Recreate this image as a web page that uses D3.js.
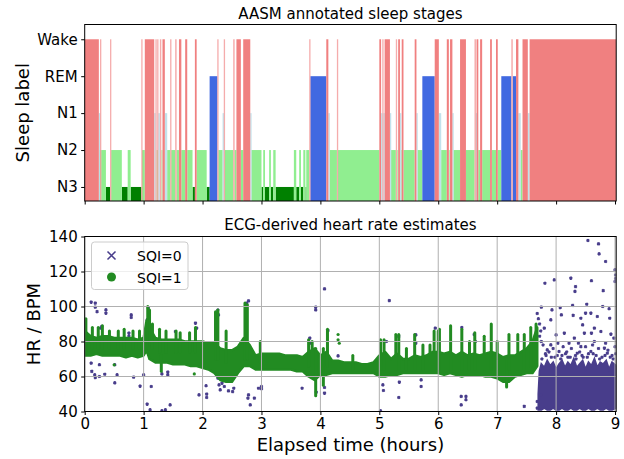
<!DOCTYPE html>
<html lang="en">
<head>
<meta charset="utf-8">
<title>sleep stages and heart rate</title>
<script src="https://cdn.jsdelivr.net/npm/d3@7"></script>
<style>
body{margin:0;background:#fff}
text{font-family:"DejaVu Sans",sans-serif}
</style>
</head>
<body>
<div id="chart"></div>
<script>

// hypnogram, run starts in hours and the stage of each run
var stageOrder = ["N3","N2","N1","REM","Wake"]
var stageStart = [0,0.24,0.25,0.26,0.28,0.36,0.43,0.45,0.63,0.73,
	0.78,0.96,0.975,1.02,1.18,1.20,1.22,1.23,1.25,1.276,
	1.30,1.32,1.36,1.40,1.45,1.47,1.535,1.56,1.60,1.64,
	1.705,1.74,1.83,1.87,1.90,2.07,2.12,2.25,2.27,2.34,
	2.36,2.38,2.52,2.545,2.575,2.65,2.69,2.81,2.83,3.00,
	3.03,3.06,3.13,3.16,3.20,3.24,3.55,3.59,3.64,3.67,
	3.71,3.745,3.76,3.81,3.83,4.10,4.135,4.16,4.28,4.30,
	5.00,5.03,5.05,5.07,5.09,5.18,5.20,5.28,5.30,5.32,
	5.35,5.37,5.38,5.41,5.60,5.63,5.65,5.73,5.94,6.01,
	6.05,6.145,6.18,6.20,6.24,6.26,6.37,6.47,6.615,6.64,
	6.65,6.68,6.71,6.745,6.88,6.91,6.98,7.01,7.07,7.24,
	7.265,7.32,7.36,7.40,7.43,7.52,7.55]
var stageName = ["Wake","N1","N2","Wake","N2","N3","Wake","N2","N3","N2",
	"N3","Wake","N2","Wake","N1","Wake","N2","Wake","N1","Wake",
	"N2","Wake","N1","N2","Wake","N2","Wake","N2","Wake","N2",
	"Wake","N2","N3","Wake","N2","N3","REM","Wake","N2","N1",
	"Wake","N2","Wake","N2","Wake","N2","Wake","N1","N2","N3",
	"N2","N3","N2","N3","N2","N3","N2","N3","N2","N3",
	"N2","N3","N2","Wake","REM","Wake","N1","N2","Wake","N2",
	"Wake","N1","Wake","N1","Wake","N1","N2","Wake","N2","Wake",
	"N1","N2","Wake","N2","Wake","N1","N2","REM","Wake","N1",
	"N2","Wake","N2","Wake","N1","N2","Wake","N2","Wake","N1",
	"Wake","N2","Wake","N2","Wake","N2","Wake","N2","REM","Wake",
	"REM","Wake","N1","N2","Wake","N1","Wake"]
var recordEnd = 9.02

// SQI=1 heart rate: dense band (low / high edge) plus narrow spikes
var bandTime = [0,0.1,0.2,0.3,0.4,0.5,0.6,0.7,0.8,0.9,1.0,1.05,1.1,
	1.2,1.3,1.4,1.5,1.6,1.7,1.8,1.9,2.0,2.1,2.2,2.3,2.4,2.5,2.6,2.7,2.8,2.9,
	3.0,3.1,3.2,3.3,3.4,3.5,3.6,3.7,3.8,3.9,4.0,4.1,4.2,4.3,4.4,4.5,4.6,4.7,4.8,4.9,
	5.0,5.1,5.2,5.3,5.4,5.5,5.6,5.7,5.8,5.9,6.0,6.1,6.2,6.3,6.4,6.5,6.6,6.7,6.8,6.9,
	7.0,7.1,7.2,7.3,7.4,7.5,7.6,7.68]
var bandLo = [72,72,73,72,72,72,72,71,72,71,72,75,70,
	68,68,68,67,67,67,66,66,65,64,62,58,57,57,62,66,66,64,
	64,64,64,64,64,64,63,63,60,58,61,61,62,62,62,62,62,62,62,62,
	60,60,61,61,62,62,62,62,62,62,62,61,62,61,60,61,61,61,60,60,
	59,57,57,60,61,62,62,66]
var bandHi = [86,83,82,83,83,82,82,82,82,81,82,92,88,
	82,81,81,81,81,80,80,80,80,79,79,76,75,75,77,82,78,72,
	73,73,73,73,72,72,72,71,74,76,72,74,69,69,68,68,68,67,67,68,
	72,74,70,73,70,70,72,71,72,74,74,73,74,72,74,72,73,72,73,74,
	73,71,72,72,74,76,80,88]
var spikeTime = [0.02,0.13,0.23,0.30,0.42,0.57,0.67,0.82,0.93,1.07,1.10,1.15,1.27,1.30,
	1.38,1.55,1.62,1.78,1.88,2.22,2.26,2.40,2.72,2.76,2.98,3.80,3.86,3.92,
	4.05,4.12,4.55,5.02,5.08,5.28,5.33,5.46,5.60,5.74,5.86,5.93,6.00,6.02,
	6.21,6.40,6.53,6.62,6.78,6.90,7.00,7.16,7.20,7.35,7.46,7.57,7.66]
var spikeLo = [75,76,76,76,76,76,76,76,76,80,78,76,74,63,
	74,74,74,74,74,70,70,68,70,70,68,66,60,49,
	55,66,64,64,64,64,64,64,64,64,64,64,64,64,
	64,64,64,64,64,64,64,54,64,64,64,66,68]
var spikeHi = [93,88,88,89,86,86,87,86,86,100,98,90,87,72,
	86,86,85,85,88,97,98,86,102,101,80,81,80,76,
	76,87,72,81,81,84,84,76,84,78,78,86,86,87,
	89,87,80,85,83,90,80,70,84,84,84,88,90]
var sqi1Time = [0.50,1.86,4.30,4.30,4.32]
var sqi1Hr = [66.7,61.5,84,81,79]

// SQI=0 heart rate: single points plus the dense cloud at the end
var sqi0Time = [0.11,0.18,0.18,0.21,0.36,0.36,0.79,0.79,0.29,0.75,0.75,0.27,
	0.11,0.12,0.17,0.18,0.25,0.25,0.34,0.51,0.51,0.55,0.83,1.00,0.94,1.06,1.11,1.13,
	1.31,1.37,1.45,1.31,1.41,1.41,2.06,1.94,2.07,2.07,
	2.26,2.28,2.30,2.33,2.37,2.44,2.51,2.53,2.78,2.77,2.88,2.81,2.95,3.00,
	1.08,1.06,1.88,1.90,2.26,2.27,2.78,2.75,1.54,
	4.07,3.92,3.92,5.17,3.82,3.82,4.13,4.30,5.12,5.33,5.62,5.62,5.95,
	3.69,3.93,4.07,4.07,3.00,5.06,5.07,5.33,5.34,5.71,5.71,5.02,
	6.39,6.47,6.47,6.39,7.46,6.40,6.61,6.63,
	7.68,7.70,7.72,7.74,7.72,7.75,7.68,7.68,7.74,
	7.81,7.97,8.25,8.33,8.32,8.60,8.80,8.54,8.72,8.73,8.84,9.00,9.00,9.01,9.01,
	7.75,7.93,8.07,8.28,8.29,8.52,8.59,8.79,8.90,8.91,8.42,8.70,7.91,8.09,8.50,8.45,8.65,7.80,
	8.00,8.14,8.31,8.48,8.60,8.76,8.93,7.91,8.22,8.42,8.65,8.82,8.98,7.85,8.05,8.36,8.59,8.87,
	7.78,7.83,7.88,7.95,7.98,8.03,8.10,8.12,8.18,8.20,8.26,8.33,8.38,8.40,8.46,8.50,8.55,8.62,8.68,8.72,8.78,8.84,8.88,8.95,9.00,9.01,
	7.76,7.82,7.92,8.02,8.08,8.16,8.24,8.34,8.44,8.53,8.63,8.74,8.83,8.92,8.97]
var sqi0Hr = [102.5,101.9,99.6,97.1,98.1,96.2,95.2,93.7,88.6,84.8,82.9,87.6,
	67.6,62.9,61,59.4,60,66.7,61.3,66.7,56.4,61,59.6,61,54.5,44.2,41,54.3,
	40.4,41,43.8,61.5,61,62.5,54.7,49.5,49.9,48,
	59,55.2,52.4,56.2,54.3,51.8,51.4,53.3,49.5,47.6,47.6,43.8,53.3,54.3,
	99,92.4,90.5,87.6,98,95.2,103.2,101.9,85.7,
	110.1,99.6,98.1,103.4,81.9,79,86.3,71.8,80,82.9,83.8,79,87.6,
	53.3,51,53.7,50.5,53,55.2,52,48,56.8,58.1,54.3,40.4,
	48.6,48.6,46.7,43.8,42.9,88,84,80,
	96,93,90,86,83,80,45.7,41.9,49.5,
	113.3,115.2,116.2,111.4,108.6,114.7,109.1,137.7,135.8,130.1,125.7,121,114.3,118,116,
	99.6,98.1,99.4,100.6,94.9,101.3,96.2,100,98.7,93.3,93.3,94.3,92.4,95.2,96.2,89.5,87.6,87.6,
	83.8,84.8,81.9,84.8,84.8,85.7,84.2,78.1,79,77.1,80,76.2,81.9,75.2,74.3,73.3,74.3,73.3,
	78,72,74,76,71,79,72,77,74,71,76,72,79,74,71,77,73,78,72,76,71,79,75,72,77,73,
	70,73,71,72,70,73,71,70,72,71,73,70,72,71,70]
var cloudTime = [7.70,7.72,7.75,7.80,7.85,7.90,7.95,8.00,8.05,8.10,8.15,8.20,8.25,8.30,
	8.35,8.40,8.45,8.50,8.55,8.60,8.65,8.70,8.75,8.80,8.85,8.90,8.95,9.02]
var cloudLo = [41,41,41,42,41,41,42,41,41,42,41,41,42,41,
	41,42,41,41,42,41,41,42,41,41,42,41,41,42]
var cloudHi = [50,63,67,65,69,66,68,64,67,69,65,68,66,70,
	65,67,69,64,68,66,70,65,68,67,69,64,68,66]

var hourTicks = [0,1,2,3,4,5,6,7,8,9]
var hrTicks = [40,60,80,100,120,140]

var W = 624
var H = 459
var left = 84.7
var right = 616.2
var colors = {"Wake":"#F08080","REM":"#4169E1","N1":"#ADD8E6","N2":"#90EE90","N3":"#008000"}
var green = "#228B22"
var purple = "#483D8B"

var svg = d3.select("#chart").append("svg")
	.attr("width",W)
	.attr("height",H)
	.style("display","block")

var xScale = d3.scaleLinear().domain([0,recordEnd]).range([left,right])
var stageScale = d3.scaleLinear().domain([-0.38,4.4]).range([201,24.5])
var hrScale = d3.scaleLinear().domain([40,140]).range([411.5,236.5])

function styleAxis(g){
	g.selectAll("text").style("font-size","15px").style("font-family","DejaVu Sans").attr("fill","#000")
	g.selectAll("line").attr("stroke","#000").attr("stroke-width",1)
	g.select(".domain").remove()
}

function frame(top,bottom){
	svg.append("rect")
	.attr("x",left).attr("y",top)
	.attr("width",right-left).attr("height",bottom-top)
	.attr("fill","none").attr("stroke","#000").attr("stroke-width",1)
}

//top panel: hypnogram
var runs = []
for(var i=0;i<stageStart.length;i++){
	var end = i<stageStart.length-1 ? stageStart[i+1] : recordEnd
	runs.push({t0:stageStart[i],t1:end,stage:stageName[i]})
}
runs.sort(function(a,b){
	return stageOrder.indexOf(a.stage)-stageOrder.indexOf(b.stage)
})

svg.selectAll(".run")
	.data(runs)
	.enter()
	.append("rect")
	.attr("class","run")
	.attr("x",function(d){return xScale(d.t0)})
	.attr("width",function(d){return Math.max(xScale(d.t1)-xScale(d.t0),1.3)})
	.attr("y",function(d){return stageScale(stageOrder.indexOf(d.stage))})
	.attr("height",function(d){return stageScale(-0.38)-stageScale(stageOrder.indexOf(d.stage))})
	.attr("fill",function(d){return colors[d.stage]})
	.attr("fill-opacity",function(d){
		if(d.stage=="N1"){return 0.75}
		return (xScale(d.t1)-xScale(d.t0))<1.5 ? 0.65 : 1
	})

svg.append("g")
	.attr("transform","translate(0,201)")
	.call(d3.axisBottom(xScale).tickValues(hourTicks).tickFormat("").tickSize(3.5))
	.call(styleAxis)

svg.append("g")
	.attr("transform","translate("+left+",0)")
	.call(d3.axisLeft(stageScale).tickValues([0,1,2,3,4]).tickFormat(function(d){return stageOrder[d]}).tickSize(3.5).tickPadding(3.5))
	.call(styleAxis)

frame(24.5,201)

svg.append("text")
	.text("AASM annotated sleep stages")
	.attr("x",(left+right)/2).attr("y",18.5)
	.attr("text-anchor","middle").style("font-size","15px")

svg.append("text")
	.text("Sleep label")
	.attr("transform","translate(29,"+((24.5+201)/2)+") rotate(-90)")
	.attr("text-anchor","middle").style("font-size","18px")

//bottom panel: heart rate
svg.append("clipPath").attr("id","clipHr")
	.append("rect").attr("x",left).attr("y",236.5).attr("width",right-left).attr("height",175)

var plot = svg.append("g").attr("clip-path","url(#clipHr)")

var cloud = cloudTime.map(function(t,i){return {t:t,lo:cloudLo[i],hi:cloudHi[i]}})
plot.append("path")
	.datum(cloud)
	.attr("d",d3.area().x(function(d){return xScale(d.t)}).y0(function(d){return hrScale(d.lo)}).y1(function(d){return hrScale(d.hi)}))
	.attr("fill",purple).attr("stroke",purple).attr("stroke-width",2)

var crosses = sqi0Time.map(function(t,i){return {t:t,hr:sqi0Hr[i]}})
plot.selectAll(".sqi0")
	.data(crosses)
	.enter()
	.append("path")
	.attr("class","sqi0")
	.attr("d","M-1.2,-1.2L1.2,1.2M-1.2,1.2L1.2,-1.2")
	.attr("transform",function(d){return "translate("+xScale(d.t)+","+hrScale(d.hr)+")"})
	.attr("stroke",purple).attr("stroke-width",1.8)

var band = bandTime.map(function(t,i){return {t:t,lo:bandLo[i],hi:bandHi[i]}})
plot.append("path")
	.datum(band)
	.attr("d",d3.area().x(function(d){return xScale(d.t)}).y0(function(d){return hrScale(d.lo)}).y1(function(d){return hrScale(d.hi)}))
	.attr("fill",green).attr("stroke",green).attr("stroke-width",2.5).attr("stroke-linejoin","round")

var spikes = spikeTime.map(function(t,i){return {t:t,lo:spikeLo[i],hi:spikeHi[i]}})
plot.selectAll(".spike")
	.data(spikes)
	.enter()
	.append("line")
	.attr("class","spike")
	.attr("x1",function(d){return xScale(d.t)}).attr("x2",function(d){return xScale(d.t)})
	.attr("y1",function(d){return hrScale(d.lo)}).attr("y2",function(d){return hrScale(d.hi)})
	.attr("stroke",green).attr("stroke-width",3).attr("stroke-linecap","round")

plot.selectAll(".sqi1")
	.data(sqi1Time)
	.enter()
	.append("circle")
	.attr("class","sqi1")
	.attr("cx",function(d){return xScale(d)})
	.attr("cy",function(d,i){return hrScale(sqi1Hr[i])})
	.attr("r",1.6)
	.attr("fill",green)

//grid sits on top of the points
svg.selectAll(".vgrid")
	.data(hourTicks)
	.enter()
	.append("line")
	.attr("x1",function(d){return xScale(d)}).attr("x2",function(d){return xScale(d)})
	.attr("y1",236.5).attr("y2",411.5)
	.attr("stroke","#b0b0b0").attr("stroke-width",1)
svg.selectAll(".hgrid")
	.data(hrTicks)
	.enter()
	.append("line")
	.attr("x1",left).attr("x2",right)
	.attr("y1",function(d){return hrScale(d)}).attr("y2",function(d){return hrScale(d)})
	.attr("stroke","#b0b0b0").attr("stroke-width",1)

svg.append("g")
	.attr("transform","translate(0,411.5)")
	.call(d3.axisBottom(xScale).tickValues(hourTicks).tickFormat(d3.format("d")).tickSize(3.5).tickPadding(3.5))
	.call(styleAxis)

svg.append("g")
	.attr("transform","translate("+left+",0)")
	.call(d3.axisLeft(hrScale).tickValues(hrTicks).tickSize(3.5).tickPadding(3.5))
	.call(styleAxis)

frame(236.5,411.5)

svg.append("text")
	.text("ECG-derived heart rate estimates")
	.attr("x",(left+right)/2).attr("y",230)
	.attr("text-anchor","middle").style("font-size","15px")

svg.append("text")
	.text("HR / BPM")
	.attr("transform","translate(40,"+((236.5+411.5)/2)+") rotate(-90)")
	.attr("text-anchor","middle").style("font-size","18px")

svg.append("text")
	.text("Elapsed time (hours)")
	.attr("x",(left+right)/2).attr("y",451)
	.attr("text-anchor","middle").style("font-size","18px")

//legend
var legend = svg.append("g")
legend.append("rect")
	.attr("x",91.5).attr("y",242).attr("width",96.5).attr("height",47.5).attr("rx",3)
	.attr("fill","#fff").attr("fill-opacity",0.8).attr("stroke","#cccccc")
legend.append("path")
	.attr("d","M-4,-4L4,4M-4,4L4,-4")
	.attr("transform","translate(111.5,255.5)")
	.attr("stroke",purple).attr("stroke-width",1.5)
legend.append("circle")
	.attr("cx",111.5).attr("cy",277).attr("r",4.5).attr("fill",green)
legend.append("text").text("SQI=0").attr("x",137).attr("y",260.5).style("font-size","14px")
legend.append("text").text("SQI=1").attr("x",137).attr("y",282.5).style("font-size","14px")

</script>
</body>
</html>
